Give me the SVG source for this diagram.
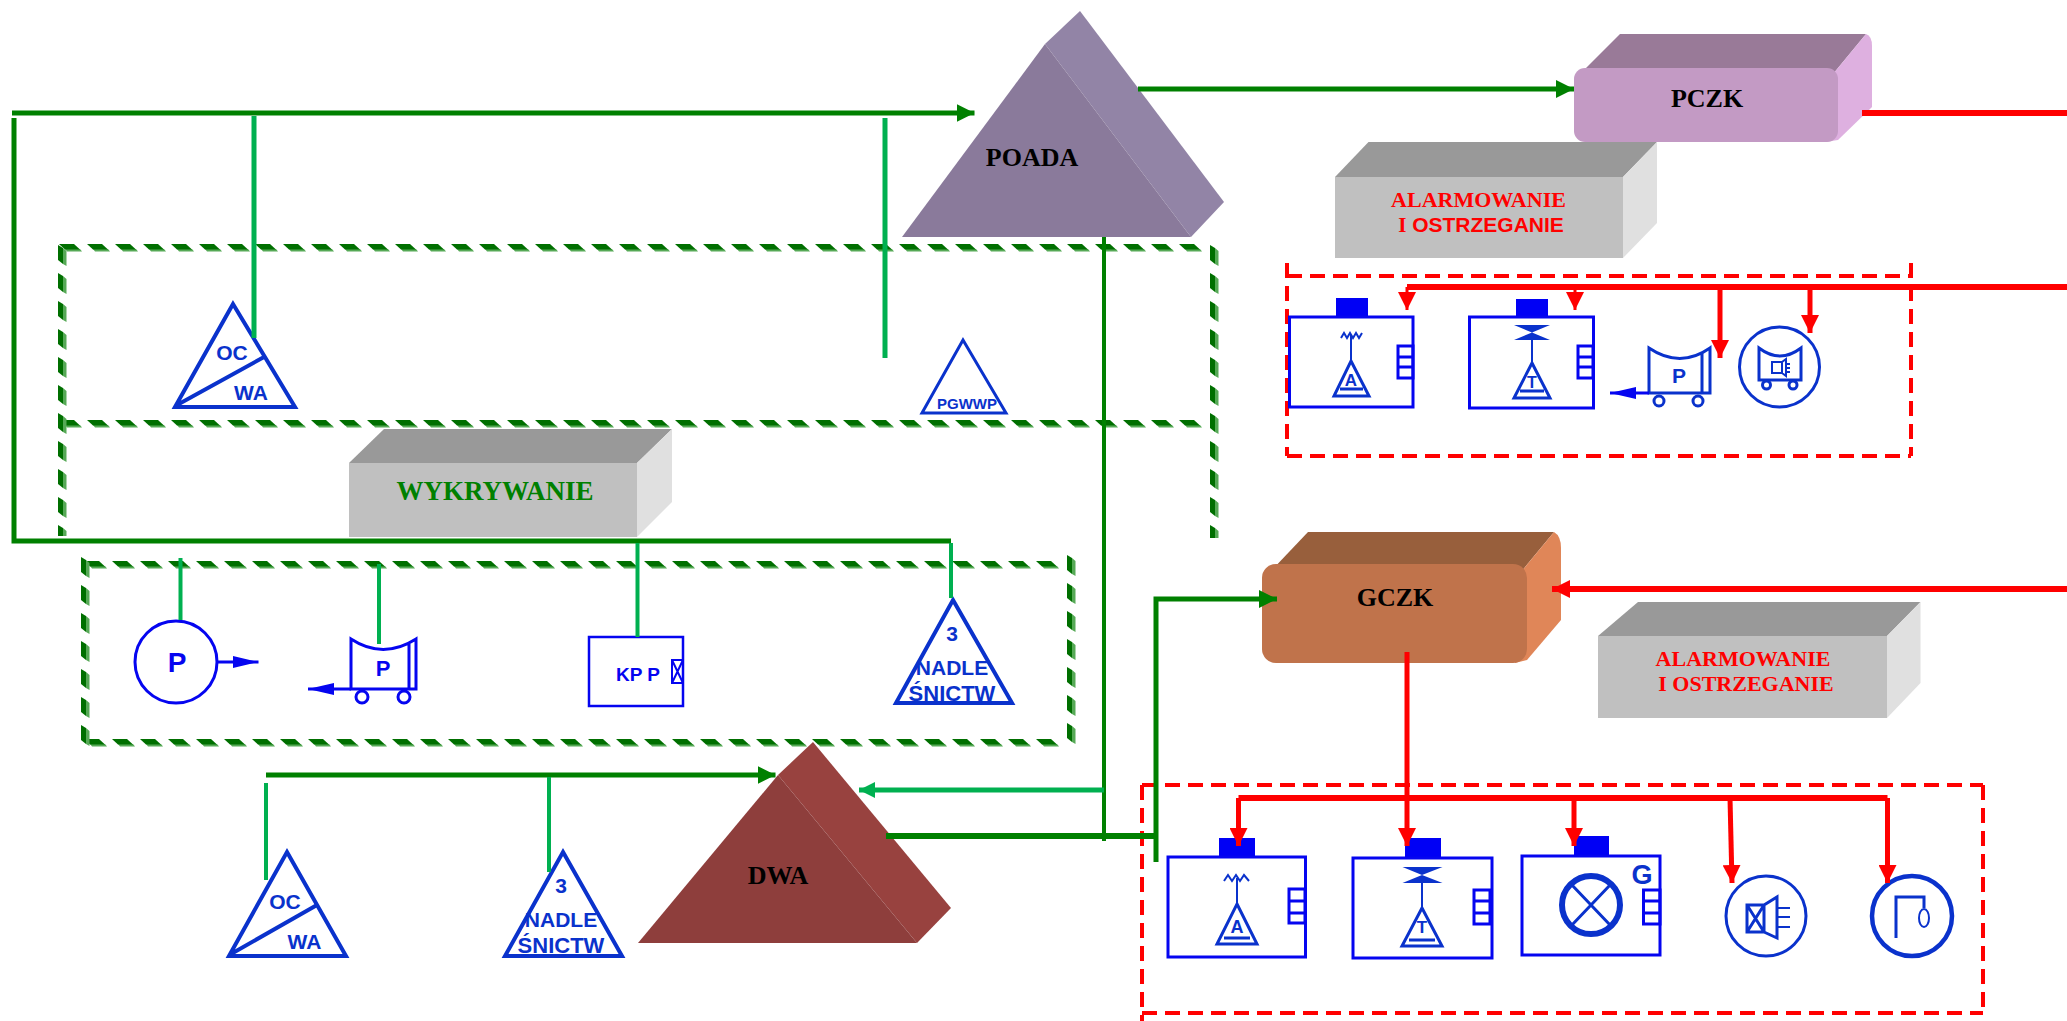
<svg xmlns="http://www.w3.org/2000/svg" width="2067" height="1021" viewBox="0 0 2067 1021">
<style>
.ser{font-family:"Liberation Serif","Times New Roman",serif;font-weight:700;text-anchor:middle}
.san{font-family:"Liberation Sans",Arial,sans-serif;font-weight:700;text-anchor:middle}
.t26{font-size:26px;fill:#000}
.alarm{font-size:22px;fill:#f00}
.ic{font-size:21px;fill:#0a32cc}
.ln{fill:none;stroke:#0a32cc;stroke-width:4}
.ln3{fill:none;stroke:#0a32cc;stroke-width:3}
.ln2{fill:none;stroke:#0a32cc;stroke-width:2}
.box{fill:#fff;stroke:#0505f0;stroke-width:3}
.cap{fill:#0000f5}
.dh{fill:url(#dashH)}
.dv{fill:url(#dashV)}
.dr{fill:none;stroke:#f00;stroke-width:4;stroke-dasharray:15 8}
.g{fill:none;stroke:#008000;stroke-width:5}
.lg{fill:none;stroke:#00b050;stroke-width:5}
.lg3{fill:none;stroke:#00b050;stroke-width:4}
.r{fill:none;stroke:#f00;stroke-width:6}
.r3{fill:none;stroke:#f00;stroke-width:5}
.bl{fill:none;stroke:#0505f0;stroke-width:3}
</style>
<defs>
<pattern id="dashH" patternUnits="userSpaceOnUse" width="28" height="8"><path d="M6 5H21L23 7.500H8Z" fill="#56a956"/><path d="M0 0H15L21 5.500H6Z" fill="#006f00"/></pattern>
<pattern id="dashV" patternUnits="userSpaceOnUse" width="9" height="28"><path d="M5 3L8.500 6V21L5 19Z" fill="#56a956"/><path d="M0 0L5 3V19L0 15Z" fill="#006f00"/></pattern>
<marker id="ag" markerUnits="userSpaceOnUse" viewBox="0 0 18 18" refX="18" refY="9" markerWidth="18" markerHeight="18" orient="auto"><path d="M0 0L18 9L0 18Z" fill="#008000"/></marker>
<marker id="al" markerUnits="userSpaceOnUse" viewBox="0 0 16 16" refX="16" refY="8" markerWidth="16" markerHeight="16" orient="auto"><path d="M0 0L16 8L0 16Z" fill="#00b050"/></marker>
<marker id="ar" markerUnits="userSpaceOnUse" viewBox="0 0 18 18" refX="18" refY="9" markerWidth="18" markerHeight="18" orient="auto"><path d="M0 0L18 9L0 18Z" fill="#f00"/></marker>
<marker id="ab" markerUnits="userSpaceOnUse" viewBox="0 0 26 12" refX="26" refY="6" markerWidth="26" markerHeight="12" orient="auto"><path d="M0 0L26 6L0 12Z" fill="#0505f0"/></marker>
</defs>
<rect width="2067" height="1021" fill="#fff"/>

<g id="group-frames">
<rect class="dh" width="1145" height="8" transform="translate(59 244)"/>
<rect class="dh" width="1145" height="8" transform="translate(59 420)"/>
<rect class="dv" width="9" height="291" transform="translate(58 245)"/>
<rect class="dv" width="9" height="293" transform="translate(1210 245)"/>
<rect class="dh" width="975" height="8" transform="translate(84 561)"/>
<rect class="dh" width="975" height="8" transform="translate(84 739)"/>
<rect class="dv" width="9" height="190" transform="translate(81 557)"/>
<rect class="dv" width="9" height="192" transform="translate(1067 555)"/>
<path class="dr" d="M1287 276H1911M1287 456H1911M1287 263V456M1911 263V456"/>
<path class="dr" d="M1142 785H1983M1142 1013H1983M1142 785V1021M1983 785V1013"/>
</g>

<g id="poada">
<path d="M1045 44L1080 11L1224 202L1191 237Z" fill="#9284a6"/>
<path d="M1045 44L1191 237H902Z" fill="#8a7a9b"/>
<text class="ser t26" x="1032" y="166">POADA</text>
</g>
<g id="dwa">
<path d="M778 775L813 742L951 908L917 943Z" fill="#98423f"/>
<path d="M778 775L917 943H638Z" fill="#8e3e3c"/>
<text class="ser t26" x="778" y="884">DWA</text>
</g>
<g id="pczk">
<path d="M1580 74L1620 34H1866L1833 74Z" fill="#997a98"/>
<path d="M1833 74L1866 34Q1872 36 1872 46V107L1838 140L1825 142Z" fill="#deb0e0"/>
<rect x="1574" y="68" width="264" height="74" rx="11" fill="#c39ac4"/>
<text class="ser t26" x="1707" y="107">PCZK</text>
</g>
<g id="gczk">
<path d="M1270 572L1308 532H1554L1521 572Z" fill="#985f3c"/>
<path d="M1521 572L1554 532Q1561 536 1561 548V620L1527 660L1515 663Z" fill="#e08658"/>
<rect x="1262" y="564" width="265" height="99" rx="14" fill="#c0734b"/>
<text class="ser t26" x="1395" y="606">GCZK</text>
</g>
<g id="alarm-top">
<path d="M1335 177L1368.500 142H1657L1623 177Z" fill="#999"/>
<path d="M1623 177L1657 142V223L1623 258Z" fill="#e0e0e0"/>
<rect x="1335" y="177" width="288" height="81" fill="#c0c0c0"/>
<text class="ser alarm" x="1478.500" y="207">ALARMOWANIE</text>
<text class="san" font-size="21" fill="#f00" x="1481" y="232"><tspan font-family="Liberation Serif">I</tspan> OSTRZEGANIE</text>
</g>
<g id="alarm-bottom">
<path d="M1598 636L1638 602H1920.500L1887 636Z" fill="#999"/>
<path d="M1887 636L1920.500 602V683L1887 718Z" fill="#e0e0e0"/>
<rect x="1598" y="636" width="289" height="82" fill="#c0c0c0"/>
<text class="ser alarm" x="1743" y="666">ALARMOWANIE</text>
<text class="ser alarm" x="1746" y="691">I OSTRZEGANIE</text>
</g>
<g id="wykrywanie">
<path d="M349 463L384 429H672L637 463Z" fill="#999"/>
<path d="M637 463L672 429V502L637 537Z" fill="#e0e0e0"/>
<rect x="349" y="463" width="288" height="74" fill="#c0c0c0"/>
<text class="ser" font-size="27" fill="#008000" x="495" y="500">WYKRYWANIE</text>
</g>

<g id="oc-wa-top">
<path class="ln" d="M233 304L295 407H175ZM177 405L264 357"/>
<text class="san ic" x="232" y="360">OC</text>
<text class="san ic" x="251" y="400">WA</text>
</g>
<g id="pgwwp">
<path class="ln3" d="M963 340L1006 413H922Z"/>
<text class="san" font-size="15" fill="#0a32cc" x="967" y="409">PGWWP</text>
</g>
<g id="nadlesnictwo-top">
<path class="ln" d="M953 600L1012 703H896Z"/>
<text class="san ic" x="952" y="641">3</text>
<text class="san ic" x="952" y="675">NADLE</text>
<text class="san ic" style="font-size:22px" x="952" y="701">ŚNICTW</text>
</g>
<g id="oc-wa-bottom">
<path class="ln" d="M287 852L346 956H229ZM231 954L317 905"/>
<text class="san ic" x="285" y="909">OC</text>
<text class="san ic" x="304.500" y="949">WA</text>
</g>
<g id="nadlesnictwo-bottom">
<path class="ln" d="M563 852L622 956H505Z"/>
<text class="san ic" x="561" y="893">3</text>
<text class="san ic" x="561" y="927">NADLE</text>
<text class="san ic" style="font-size:22px" x="561" y="953">ŚNICTW</text>
</g>
<g id="p-circle">
<circle cx="176" cy="662" r="41" fill="#fff" stroke="#0505f0" stroke-width="3"/>
<path class="bl" d="M217 662H258.500" marker-end="url(#ab)"/>
<text class="san" font-size="28" fill="#0505f0" x="177" y="672">P</text>
</g>
<g id="p-cart-left">
<path class="bl" d="M351 639Q383 660 416 639V689H351ZM409 643V689"/>
<path class="bl" d="M351 689H308" marker-end="url(#ab)"/>
<circle class="bl" cx="362" cy="697" r="6"/><circle class="bl" cx="404" cy="697" r="6"/>
<text class="san" font-size="22" fill="#0505f0" x="383" y="676">P</text>
</g>
<g id="kpp">
<rect x="589" y="637" width="94" height="69" fill="#fff" stroke="#0505f0" stroke-width="2.500"/>
<path class="bl" style="stroke-width:2" d="M672 660H683V683H672ZM672 660L683 683M683 660L672 683"/>
<text class="san" font-size="19" fill="#0505f0" x="638" y="681">KP P</text>
</g>

<g id="alarm-box-a">
<rect class="cap" x="1336" y="298" width="32" height="19"/>
<rect class="box" x="1289.500" y="317" width="123.500" height="90"/>
<path class="bl" d="M1398 346H1413V378H1398ZM1398 357H1413M1398 367H1413"/>
<path class="ln2" d="M1341 338L1344 333L1347 338L1350 333L1353 338L1356 333L1359 338L1362 333M1351 335V360"/>
<path class="ln3" d="M1351 361L1369 396H1334ZM1340 389H1363"/>
<text class="san" font-size="17" fill="#0a32cc" x="1351" y="386">A</text>
</g>
<g id="alarm-box-t">
<rect class="cap" x="1516" y="299" width="32" height="18"/>
<rect class="box" x="1469.500" y="317" width="124" height="91"/>
<path class="bl" d="M1578 346H1593V378H1578ZM1578 357H1593M1578 367H1593"/>
<path d="M1514 325H1550L1532 332.500L1550 340H1514L1532 332.500Z" fill="#0a32cc"/>
<path class="ln2" d="M1532 335V362"/>
<path class="ln3" d="M1532 363L1550 398H1514ZM1520 391H1544"/>
<text class="san" font-size="16" fill="#0a32cc" x="1532" y="388">T</text>
</g>
<g id="alarm-cart">
<path class="ln3" d="M1649 348Q1680 369 1710 348V393H1649ZM1702 352V393"/>
<path class="bl" d="M1649 393H1610" marker-end="url(#ab)"/>
<circle class="ln3" cx="1659" cy="401" r="5"/><circle class="ln3" cx="1698" cy="401" r="5"/>
<text class="san" font-size="21" fill="#0a32cc" x="1679" y="383">P</text>
</g>
<g id="alarm-siren">
<circle class="ln3" cx="1779.500" cy="367" r="40"/>
<path class="ln3" d="M1759 348Q1780 364 1801 348V380H1759Z"/>
<circle class="ln3" cx="1766.500" cy="385" r="4"/><circle class="ln3" cx="1793" cy="385" r="4"/>
<path class="ln2" d="M1772 362H1782V373H1772ZM1782 362L1786 359V376L1782 373M1787 364H1790M1787 368H1790M1787 372H1790"/>
</g>

<g id="gczk-box-a">
<rect class="cap" x="1219" y="838" width="36" height="19"/>
<rect class="box" x="1168" y="857" width="137.500" height="100"/>
<path class="bl" d="M1289 889H1305V923H1289ZM1289 901H1305M1289 913H1305"/>
<path class="ln2" d="M1224 881L1228 875L1232 881L1236 875L1240 881L1244 875L1249 881M1237 878V903"/>
<path class="ln3" d="M1237 904L1257 944H1217ZM1224 938H1250"/>
<text class="san" font-size="18" fill="#0a32cc" x="1237" y="933">A</text>
</g>
<g id="gczk-box-t">
<rect class="cap" x="1405" y="838" width="36" height="20"/>
<rect class="box" x="1353" y="858" width="139" height="100"/>
<path class="bl" d="M1474 890H1490V924H1474ZM1474 901H1490M1474 913H1490"/>
<path d="M1402.500 867H1442.500L1422 875L1442.500 883H1402.500L1422 875Z" fill="#0a32cc"/>
<path class="ln2" d="M1422 878V907"/>
<path class="ln3" d="M1422 908L1442 946H1402ZM1409 940H1435"/>
<text class="san" font-size="17" fill="#0a32cc" x="1422" y="933">T</text>
</g>
<g id="gczk-box-g">
<rect class="cap" x="1574" y="836" width="35" height="20"/>
<rect class="box" x="1522" y="856" width="138" height="99"/>
<path class="bl" d="M1643.500 890H1660V924H1643.500ZM1643.500 901H1660M1643.500 913H1660"/>
<circle cx="1591" cy="905" r="29" fill="none" stroke="#0a32cc" stroke-width="6"/>
<path class="ln3" d="M1571 884L1611 926M1611 884L1571 926"/>
<text class="san" font-size="27" fill="#0a32cc" x="1642" y="884">G</text>
</g>
<g id="gczk-speaker">
<circle class="ln3" cx="1766" cy="916" r="40"/>
<path class="ln3" d="M1747 905H1764V932H1747ZM1747 905L1764 932M1764 905L1747 932M1764 905L1777 897V938L1764 932"/>
<path class="ln2" d="M1778 908H1790M1778 917H1790M1778 927H1790"/>
</g>
<g id="gczk-bell">
<circle cx="1912" cy="916" r="40" fill="none" stroke="#0a32cc" stroke-width="4.500"/>
<path class="ln3" d="M1896 938V897H1924V908"/>
<ellipse class="ln2" cx="1924" cy="918" rx="5" ry="9"/>
</g>

<g id="connectors">
<path class="g" d="M14 118V541H951"/>
<path class="g" d="M12 113H974.500" marker-end="url(#ag)"/>
<path class="lg" d="M254 116V338"/>
<path class="lg" d="M885 118V358"/>
<path class="g" d="M1138 89H1574" marker-end="url(#ag)"/>
<path class="g" style="stroke-width:4" d="M1104 237V841"/>
<path class="lg3" d="M951 543V598"/>
<path class="lg3" d="M180.500 558V620"/>
<path class="lg3" d="M379 564V644"/>
<path class="lg3" d="M637.500 543V637"/>
<path class="g" d="M266 775H775.500" marker-end="url(#ag)"/>
<path class="lg3" d="M266 783V880"/>
<path class="lg3" d="M549 777V872"/>
<path class="lg" d="M1104 790H859" marker-end="url(#al)"/>
<path class="g" style="stroke-width:6" d="M886 836H1156"/>
<path class="g" d="M1156 862V599H1277" marker-end="url(#ag)"/>
<path class="r" d="M1862 113H2067"/>
<path class="r" d="M2067 589H1552" marker-end="url(#ar)"/>
<path class="r3" d="M1407 652V846" marker-end="url(#ar)"/>
<path class="r" d="M2067 287H1407"/>
<path class="r3" style="stroke-width:3" d="M1407 287V310" marker-end="url(#ar)"/>
<path class="r3" style="stroke-width:3" d="M1575 287V310" marker-end="url(#ar)"/>
<path class="r3" d="M1720 287V358" marker-end="url(#ar)"/>
<path class="r3" d="M1810 287V333" marker-end="url(#ar)"/>
<path class="r" d="M1238.500 798H1887.500"/>
<path class="r3" d="M1238.500 798V846" marker-end="url(#ar)"/>
<path class="r3" d="M1574 798V846" marker-end="url(#ar)"/>
<path class="r3" d="M1730 798L1732 883" marker-end="url(#ar)"/>
<path class="r3" d="M1887.500 798V883" marker-end="url(#ar)"/>
</g>
</svg>
